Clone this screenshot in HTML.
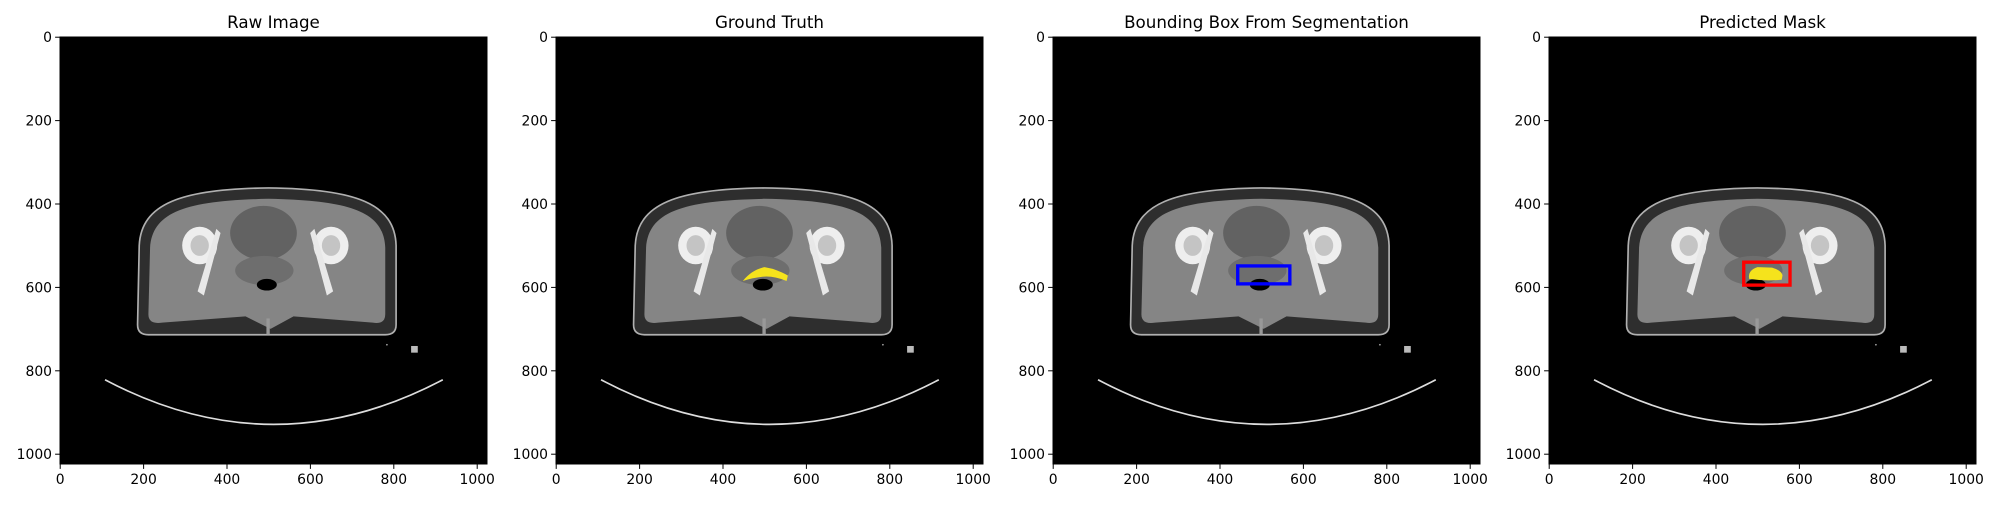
<!DOCTYPE html>
<html><head><meta charset="utf-8"><style>
body{margin:0;background:#fff;width:2000px;height:500px;overflow:hidden;font-family:"Liberation Sans","DejaVu Sans",sans-serif}
svg text{font-family:"DejaVu Sans","Liberation Sans",sans-serif}
</style></head><body>
<svg id="fig" width="2000" height="500" viewBox="0 0 2000 500"></svg>
<script>
const titles = ["Raw Image","Ground Truth","Bounding Box From Segmentation","Predicted Mask"];
const tickValues = [0,200,400,600,800,1000];
// boxes in image coords [x0,y0,x1,y1]
const bboxSeg = [443,549,568,592];
const bboxPred = [467,540,578,595];
const panelLefts = [60,556,1053,1549];
const NS="http://www.w3.org/2000/svg";
const fig=document.getElementById('fig');
const W=427, top0=37, ext=1024;
function mk(tag,attrs,parent){const e=document.createElementNS(NS,tag);for(const k in attrs)e.setAttribute(k,attrs[k]);parent.appendChild(e);return e;}
function drawCT(g){
  mk('path',{d:"M186,690 L190,500 C195,400 290,364 500,362 C710,364 803,400 806,500 L806,690 Q806,714 780,714 L212,714 Q186,714 186,690 Z",fill:"#2e2e2e",stroke:"#b0b0b0","stroke-width":4},g);
  mk('path',{d:"M212,665 L216,505 C222,420 300,392 500,388 C700,392 776,420 780,505 L780,665 Q780,690 750,685 L560,670 L505,700 L445,670 L245,685 Q212,690 212,665 Z",fill:"#858585"},g);
  mk('ellipse',{cx:488,cy:470,rx:80,ry:65,fill:"#626262"},g);
  mk('ellipse',{cx:490,cy:560,rx:70,ry:35,fill:"#6e6e6e"},g);
  for(const cx of [335,650]){
    mk('ellipse',{cx:cx,cy:500,rx:42,ry:45,fill:"#eeeeee"},g);
    mk('ellipse',{cx:cx,cy:500,rx:22,ry:25,fill:"#c4c4c4"},g);
    mk('path',{d:`M${cx+(cx<500?40:-40)},460 L${cx+(cx<500?50:-50)},470 L${cx+(cx<500?10:-10)},620 L${cx+(cx<500?-5:5)},610 Z`,fill:"#e8e8e8"},g);
  }
  mk('ellipse',{cx:496,cy:594,rx:24,ry:14,fill:"#000"},g);
  mk('rect',{x:495,y:675,width:8,height:38,fill:"#999"},g);
  mk('path',{d:"M108,822 Q512,1036 918,822",fill:"none",stroke:"#dddddd","stroke-width":4},g);
  mk('rect',{x:842,y:741,width:16,height:16,fill:"#bbbbbb"},g);
  mk('circle',{cx:784,cy:738,r:2,fill:"#aaa"},g);
}
panelLefts.forEach((L,i)=>{
  const s=W/ext;
  const ax=mk('g',{},fig);
  
  
  const t=mk('text',{x:L+W/2,y:28,'text-anchor':'middle','font-size':16.7,fill:'#000'},ax);
  t.textContent=titles[i];
  
  
  mk('rect',{x:L,y:top0,width:W,height:W,fill:'#000'},ax);
  const g=mk('g',{transform:`translate(${L},${top0}) scale(${s})`},ax);
  
  
  drawCT(g);
  if(i===1){
    const y=mk('path',{d:"M448,585 Q470,558 500,552 L520,556 Q545,565 556,572 L553,585 Q520,572 495,575 Q470,578 448,585 Z",fill:"#f5e31c"},g);
    
    
  }
  if(i===2){
    const b=mk('rect',{x:bboxSeg[0],y:bboxSeg[1],width:bboxSeg[2]-bboxSeg[0],height:bboxSeg[3]-bboxSeg[1],fill:'none',stroke:'#0000ff','stroke-width':8},g);
    
    
  }
  if(i===3){
    const m=mk('path',{d:"M480,580 Q476,560 500,552 L535,553 Q558,560 560,572 L558,582 Q520,586 480,580 Z",fill:'#f5e31c'},g);
    
    
    const b=mk('rect',{x:bboxPred[0],y:bboxPred[1],width:bboxPred[2]-bboxPred[0],height:bboxPred[3]-bboxPred[1],fill:'none',stroke:'#ff0000','stroke-width':8},g);
    
    
  }
  tickValues.forEach(v=>{
    const p=(v+0.5)*s;
    mk('line',{x1:L+p,x2:L+p,y1:top0+W,y2:top0+W+4.9,stroke:'#000','stroke-width':1},ax);
    const tx=mk('text',{x:L+p,y:top0+W+20,'text-anchor':'middle','font-size':13.9,fill:'#000'},ax);
    tx.textContent=v;
    
    
    mk('line',{x1:L-4.9,x2:L,y1:top0+p,y2:top0+p,stroke:'#000','stroke-width':1},ax);
    const ty=mk('text',{x:L-8,y:top0+p+5,'text-anchor':'end','font-size':13.9,fill:'#000'},ax);
    ty.textContent=v;
    
    
  });
  mk('rect',{x:L,y:top0,width:W,height:W,fill:'none',stroke:'#000','stroke-width':1},ax);
});
</script>
</body></html>
